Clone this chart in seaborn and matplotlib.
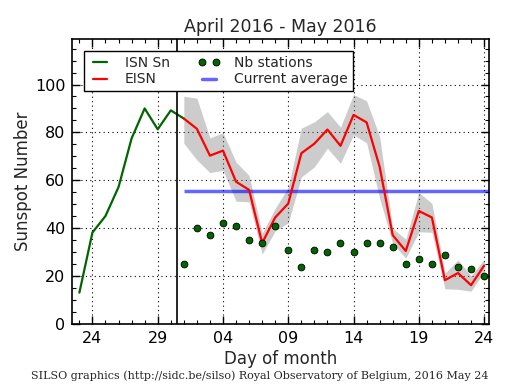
import numpy as np
import pandas as pd
import matplotlib
matplotlib.use("Agg")
import matplotlib.pyplot as plt
import matplotlib.dates as mdates
from matplotlib.lines import Line2D
import seaborn as sns

# ---------------- data ----------------
isn_dates = ["2016-04-23", "2016-04-24", "2016-04-25", "2016-04-26", "2016-04-27",
             "2016-04-28", "2016-04-29", "2016-04-30", "2016-05-01"]
isn_values = [13.1, 38.2, 45.1, 57.2, 77.5, 90.0, 81.3, 89.2, 85.8]

eisn_dates = ["2016-05-%02d" % d for d in [1, 2, 3, 4, 5, 6, 7, 8, 9, 10, 11, 12,
                                            13, 14, 15, 16, 17, 18, 19, 20, 21, 22, 23, 24]]
eisn_values = [85.8, 81.5, 70.3, 72.4, 59.4, 56.0, 33.8, 44.5, 50.3, 71.3, 75.3, 81.2,
               74.4, 87.3, 84.2, 65.6, 37.1, 30.5, 47.2, 44.5, 18.3, 21.3, 16.2, 24.4]
eisn_upper = [95.1, 94.3, 77.7, 79.9, 67.6, 62.0, 37.8, 48.3, 57.1, 81.8, 84.4, 88.7,
              82.2, 95.8, 93.2, 78.2, 39.9, 35.4, 54.9, 50.4, 21.2, 26.8, 20.1, 26.9]
eisn_lower = [75.5, 68.5, 63.2, 64.2, 51.3, 51.0, 29.2, 38.9, 42.2, 61.4, 65.6, 73.4,
              67.1, 79.0, 75.7, 52.5, 33.6, 27.5, 38.5, 38.3, 14.7, 14.5, 13.7, 21.8]
nb_stations = [25, 40, 37, 42, 41, 35, 34, 41, 31, 24, 31, 30,
               34, 30, 34, 34, 32, 25, 27, 25, 29, 24, 23, 20]
current_average = 55.4

month_boundary = "2016-04-30 12:00"
x_limits = ["2016-04-22 11:00", "2016-05-24 09:00"]
y_ticks = [0, 20, 40, 60, 80, 100]
title = "April 2016 - May 2016"
footer = "SILSO graphics (http://sidc.be/silso) Royal Observatory of Belgium, 2016 May 24"

# ---------------- frames ----------------
df_isn = pd.DataFrame({"date": pd.to_datetime(isn_dates), "value": isn_values})
df_eisn = pd.DataFrame({"date": pd.to_datetime(eisn_dates), "value": eisn_values,
                        "upper": eisn_upper, "lower": eisn_lower,
                        "stations": nb_stations})

# ---------------- style ----------------
sns.set_style("ticks")
plt.rcParams["font.family"] = ["DejaVu Sans"]
plt.rcParams["axes.edgecolor"] = "black"
plt.rcParams["axes.linewidth"] = 1.0

fig = plt.figure(figsize=(5.15, 3.9), dpi=100)
ax = fig.add_axes([0.1404, 0.1692, 0.8091, 0.7308])

green = "#006400"
ax.fill_between(df_eisn["date"], df_eisn["lower"], df_eisn["upper"],
                color="#808080", alpha=0.4, linewidth=0, zorder=1)
sns.lineplot(data=df_isn, x="date", y="value", ax=ax, color=green, linewidth=1.6,
             zorder=3, label="ISN Sn")
sns.lineplot(data=df_eisn, x="date", y="value", ax=ax, color="red", linewidth=1.6,
             zorder=4, label="EISN")
sns.scatterplot(data=df_eisn, x="date", y="stations", ax=ax, color=green,
                edgecolor="black", linewidth=0.6, s=24, zorder=5, label="Nb stations")
xl = pd.to_datetime(x_limits)
ax.hlines(current_average, df_eisn["date"].iloc[0], xl[1], color="blue", alpha=0.6,
          linewidth=2.5, zorder=2)
ax.axvline(pd.to_datetime(month_boundary), color="black", linewidth=1.2, zorder=6)

ax.set_xlim(xl[0], xl[1])
ax.set_ylim(0, 119)
ax.set_yticks(y_ticks)
ax.yaxis.set_minor_locator(matplotlib.ticker.MultipleLocator(5))
ax.xaxis.set_major_locator(mdates.DayLocator(bymonthday=[4, 9, 14, 19, 24, 29]))
ax.xaxis.set_minor_locator(mdates.DayLocator())
ax.xaxis.set_major_formatter(mdates.DateFormatter("%d"))

ax.tick_params(which="both", direction="in", top=True, right=True, labelsize=11.5,
               colors="black")
ax.tick_params(which="major", length=6, width=1, pad=5)
ax.tick_params(which="minor", length=3, width=0.8)
ax.grid(True, which="major", color="black", linestyle=(0, (1, 3)), linewidth=0.8)
for s in ax.spines.values():
    s.set_visible(True)
    s.set_color("black")
    s.set_linewidth(1.2)

ax.set_xlabel("Day of month", fontsize=12, labelpad=3)
ax.set_ylabel("Sunspot Number", fontsize=12, labelpad=2)
ax.set_title(title, fontsize=12.5, pad=5)

handles = [
    Line2D([], [], color=green, linewidth=1.6),
    Line2D([], [], color="red", linewidth=1.6),
    Line2D([], [], color=green, marker="o", linestyle="", markersize=5,
           markeredgecolor="black", markeredgewidth=0.6),
    Line2D([], [], color="blue", alpha=0.6, linewidth=2.5),
]
labels = ["ISN Sn", "EISN", "Nb stations", "Current average"]
leg = ax.legend(handles, labels, loc="upper left", ncol=2, numpoints=2,
                fontsize=10, frameon=True, fancybox=False, framealpha=1,
                edgecolor="black", handlelength=1.6, handletextpad=1.0,
                columnspacing=2.0, borderaxespad=0.85, borderpad=0.35,
                labelspacing=0.2)
leg.get_frame().set_linewidth(1.0)
leg.set_zorder(10)

fig.text(0.949, 1 - 376 / 390, footer, ha="right", va="center",
         fontsize=8, family="DejaVu Serif")

fig.savefig("out.png", dpi=100)
